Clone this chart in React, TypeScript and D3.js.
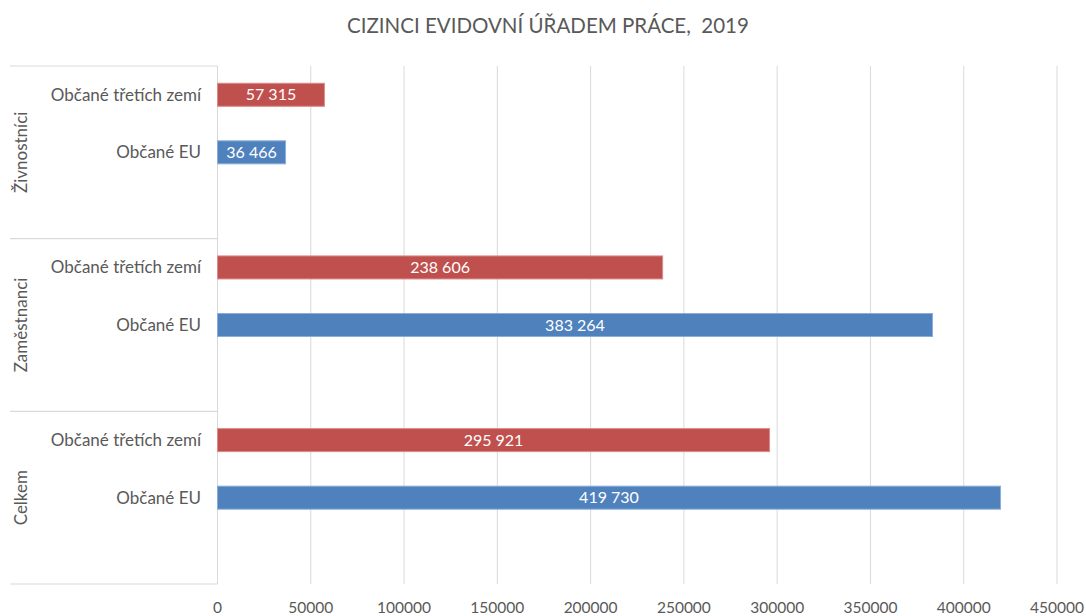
import React from 'react';
import * as d3 from 'd3';

// Chart values
const groups = ['Živnostníci', 'Zaměstnanci', 'Celkem'];
const subcategories = ['Občané třetích zemí', 'Občané EU'];
const thirdCountryValues = [57315, 238606, 295921];
const euValues = [36466, 383264, 419730];
const xTicks = [0, 50000, 100000, 150000, 200000, 250000, 300000, 350000, 400000, 450000];

const title = 'CIZINCI EVIDOVNÍ ÚŘADEM PRÁCE,  2019';

const width = 1086;
const height = 616;
const margin = { top: 66, right: 29, bottom: 32, left: 217.5 };
const font = 'Lato, "Open Sans", sans-serif';
const textColor = '#595959';
const gridColor = '#d9d9d9';
const colors = ['#C0504D', '#4F81BD'];
const strokes = ['#d98c8a', '#8aaedb'];

const numFormat = d3.formatLocale({
  decimal: ',',
  thousands: ' ',
  grouping: [3],
  currency: ['', ''],
}).format(',d');

const App = () => {
  const x = d3.scaleLinear()
    .domain([0, 450000])
    .range([margin.left, width - margin.right]);

  const yGroup = d3.scaleBand()
    .domain(groups)
    .range([margin.top, height - margin.bottom])
    .padding(0);

  // three slots per group, last one stays empty like in the original
  const ySub = d3.scaleBand()
    .domain([...subcategories, '_empty'])
    .range([0, yGroup.bandwidth()])
    .padding(0);

  const barH = ySub.bandwidth() * 0.4;

  const series = [thirdCountryValues, euValues];

  const bars = [];
  groups.forEach((g, gi) => {
    subcategories.forEach((s, si) => {
      const v = series[si][gi];
      const cy = yGroup(g) + ySub(s) + ySub.bandwidth() / 2;
      bars.push({ g, s, si, v, cy });
    });
  });

  const separators = [...groups.map(g => yGroup(g)), height - margin.bottom];

  return (
    <svg width={width} height={height} style={{ display: 'block', position: 'absolute', left: 0, top: 0, background: '#fff' }}>
      <text x={548} y={33} textAnchor="middle" fontFamily={font} fontSize={20.5} fill={textColor}
        style={{ whiteSpace: 'pre' }}>
        {title}
      </text>

      {/* vertical gridlines */}
      {xTicks.map(t => (
        <line key={t} x1={x(t)} x2={x(t)} y1={margin.top} y2={height - margin.bottom}
          stroke={gridColor} strokeWidth={1} />
      ))}

      {/* category separators on the left */}
      {separators.map((y, i) => (
        <line key={i} x1={10} x2={margin.left} y1={y} y2={y} stroke={gridColor} strokeWidth={1.2} />
      ))}

      {/* tick labels */}
      {xTicks.map(t => (
        <text key={t} x={x(t)} y={613} textAnchor="middle" fontFamily={font} fontSize={15.5} fill={textColor}>
          {t}
        </text>
      ))}

      {/* group labels */}
      {groups.map(g => {
        const cy = yGroup(g) + yGroup.bandwidth() / 2;
        return (
          <text key={g} transform={`translate(27,${cy}) rotate(-90)`} textAnchor="middle"
            fontFamily={font} fontSize={17} fill={textColor}>
            {g}
          </text>
        );
      })}

      {/* bars */}
      {bars.map((b, i) => (
        <g key={i}>
          <text x={201} y={b.cy + 6} textAnchor="end" fontFamily={font} fontSize={17} fill={textColor}>
            {b.s}
          </text>
          <rect x={x(0)} y={b.cy - barH / 2} width={x(b.v) - x(0)} height={barH}
            fill={colors[b.si]} stroke={strokes[b.si]} strokeWidth={1} />
          <text x={(x(0) + x(b.v)) / 2} y={b.cy + 5.5} textAnchor="middle" fontFamily={font}
            fontSize={16} fill="#fff">
            {numFormat(b.v)}
          </text>
        </g>
      ))}
    </svg>
  );
};

export default App;
